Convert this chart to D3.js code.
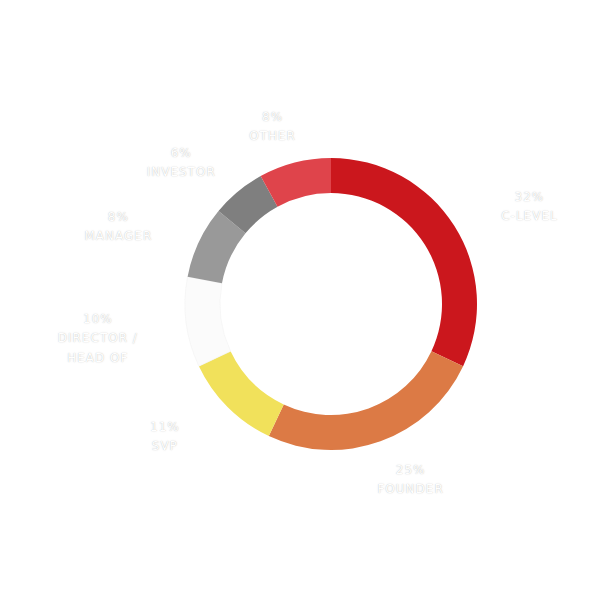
<!DOCTYPE html>
<html lang="en">
<head>
<meta charset="UTF-8">
<title>Donut</title>
<script src="https://cdn.jsdelivr.net/npm/d3@7"></script>
<style>
body{margin:0;background:#fff;}
.lbl{font-family:"DejaVu Sans",sans-serif;font-size:12px;fill:#fff;letter-spacing:1px;
  text-shadow:0 0 1px rgba(0,0,0,0.25),0 0 3px rgba(0,0,0,0.08);}
</style>
</head>
<body>
<script>
// data, clockwise from 12 o'clock
var categories = ["C-LEVEL","FOUNDER","SVP","DIRECTOR /|HEAD OF","MANAGER","INVESTOR","OTHER"];
var shares = [32,25,11,10,8,6,8];
var colors = ["#cb171d","#dc7a45","#f1e15b","#fbfbfb","#999999","#7f7f7f","#df444b"];

var width=600, height=600;
var cx=331, cy=304;
var outer=146, inner=111, labelRx=235, labelRy=185;

var svg=d3.select("body").append("svg").attr("width",width).attr("height",height);
var g=svg.append("g").attr("transform","translate("+cx+","+cy+")");

var pie=d3.pie().sort(null).value(function(d){return d;});
var arcs=pie(shares);
var arc=d3.arc().innerRadius(inner).outerRadius(outer);

g.selectAll("path").data(arcs).enter().append("path")
  .attr("d",arc)
  .attr("fill",function(d,i){return colors[i];})
  .attr("stroke",function(d,i){return i==3?"#f1f1f1":"none";})
  .attr("stroke-width",0.6);

// labels around the ring
var lab=g.selectAll("g.lab").data(arcs).enter().append("g").attr("class","lab")
  .attr("transform",function(d){
    var a=(d.startAngle+d.endAngle)/2;
    var x=Math.sin(a)*labelRx, y=-Math.cos(a)*labelRy;
    return "translate("+x+","+y+")";
  });
lab.append("text").attr("class","lbl").attr("text-anchor","middle").attr("y",-4)
  .text(function(d){return d.data+"%";});
lab.each(function(d,i){
  var lines=categories[i].split("|");
  var t=d3.select(this);
  lines.forEach(function(s,k){
    t.append("text").attr("class","lbl").attr("text-anchor","middle")
      .attr("y",15+k*20).text(s);
  });
});
</script>
</body>
</html>
